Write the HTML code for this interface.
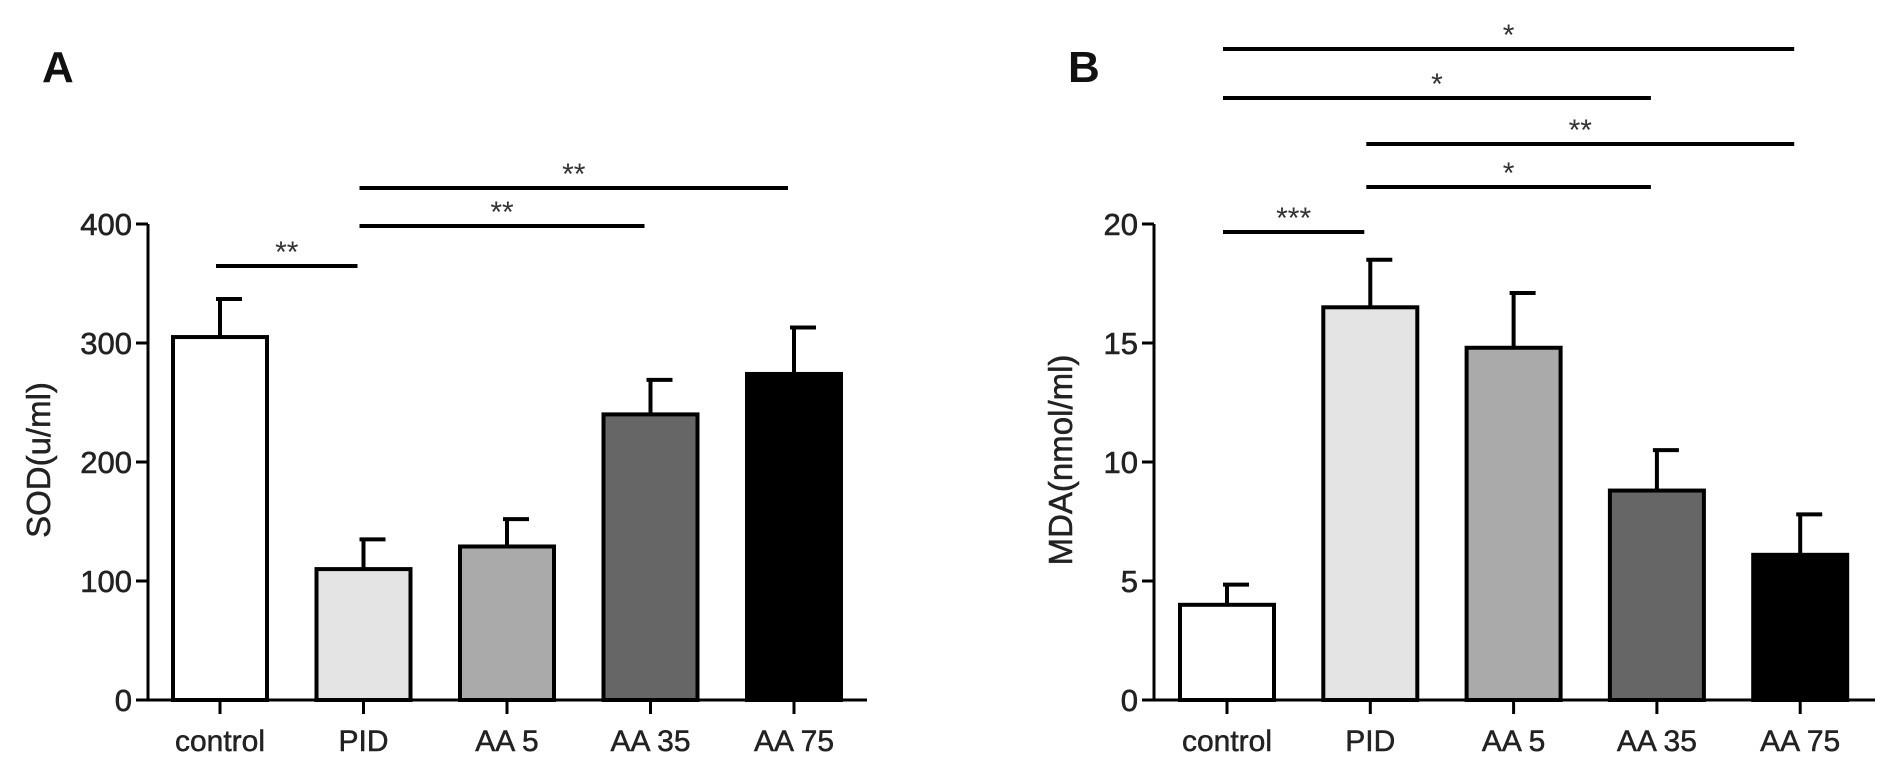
<!DOCTYPE html>
<html><head><meta charset="utf-8"><style>
body{margin:0;background:#fff;}
svg{display:block;font-family:"Liberation Sans",Arial,sans-serif;}
</style></head><body>
<svg id="c" width="1890" height="770" viewBox="0 0 1890 770"></svg>
<script>
const categories = ["control","PID","AA 5","AA 35","AA 75"];
const fills = ["#ffffff","#e4e4e4","#aaaaaa","#666666","#000000"];
const sodValues = [305,110,129,240,274];
const sodErrors = [32,25,23,29,39];
const sodTicks = [0,100,200,300,400];
const mdaValues = [4.0,16.5,14.8,8.8,6.1];
const mdaErrors = [0.85,2.0,2.3,1.7,1.7];
const mdaTicks = [0,5,10,15,20];
const sodSig = [[0,1,"**",266],[1,3,"**",226],[1,4,"**",188]];
const mdaSig = [[0,1,"***",232],[1,3,"*",187],[1,4,"**",144],[0,3,"*",98],[0,4,"*",49]];

const svg = document.getElementById('c');
const NS = "http://www.w3.org/2000/svg";
function mk(tag, attrs, parent){const e=document.createElementNS(NS,tag);for(const k in attrs)e.setAttribute(k,attrs[k]);(parent||svg).appendChild(e);return e;}

function panel(p){
  const g = mk('g',{});
  
  
  const y = v => p.y0 - (v/p.max)*(p.y0-p.yTop);
  const xc = i => p.x0 + i*p.step;
  const L = mk('text',{x:p.lx,y:82,'font-size':44,'font-weight':'bold',fill:'#111'},g);
  L.textContent=p.letter;
  
  
  p.values.forEach((v,i)=>{
    const cx=xc(i), top=y(v), et=y(v+p.errors[i]);
    const eb=mk('line',{x1:cx,y1:top,x2:cx,y2:et,stroke:'#000','stroke-width':4},g);
    
    
    const cap=mk('line',{x1:cx-4,y1:et,x2:cx+22,y2:et,stroke:'#000','stroke-width':4},g);
    
    
    const r=mk('rect',{x:cx-47,y:top,width:94,height:p.y0-top,fill:fills[i],stroke:'#000','stroke-width':4},g);
    
    
  });
  const ya=mk('line',{x1:p.ax,y1:y(p.ticks[p.ticks.length-1]),x2:p.ax,y2:p.y0,stroke:'#000','stroke-width':3},g);
  
  
  const xa=mk('line',{x1:p.ax-12,y1:p.y0,x2:p.xEnd,y2:p.y0,stroke:'#000','stroke-width':3},g);
  
  
  p.ticks.forEach(t=>{
    mk('line',{x1:p.ax-12,y1:y(t),x2:p.ax,y2:y(t),stroke:'#000','stroke-width':3},g);
    const tl=mk('text',{x:p.ax-16,y:y(t)+11,'font-size':31,'text-anchor':'end',fill:'#222',stroke:'#222','stroke-width':0.6},g);
    tl.textContent=t;
    
    
  });
  categories.forEach((c,i)=>{
    mk('line',{x1:xc(i),y1:p.y0,x2:xc(i),y2:p.y0+14,stroke:'#000','stroke-width':3},g);
    const tl=mk('text',{x:xc(i),y:751,'font-size':30,'text-anchor':'middle',fill:'#222',stroke:'#222','stroke-width':0.5},g);
    tl.textContent=c;
    
    
  });
  const yt=mk('text',{x:0,y:0,'font-size':33,'text-anchor':'middle',fill:'#222',stroke:'#222','stroke-width':0.5,transform:`translate(${p.tx},460) rotate(-90)`},g);
  yt.textContent=p.title;
  
  
  p.sig.forEach(s=>{
    const x1=xc(s[0])-4, x2=xc(s[1])-6;
    const l=mk('line',{x1:x1,y1:s[3],x2:x2,y2:s[3],stroke:'#000','stroke-width':4},g);
    
    
    const st=mk('text',{x:(x1+x2)/2,y:s[3]-4,'font-size':30,'text-anchor':'middle',fill:'#333'},g);
    st.textContent=s[2];
    
    
  });
}
panel({name:'panel-a-sod',letter:'A',lx:42,values:sodValues,errors:sodErrors,ticks:sodTicks,max:400,
  x0:220,step:143.5,ax:148,xEnd:867,y0:700,yTop:224,title:'SOD(u/ml)',tx:50,sig:sodSig});
panel({name:'panel-b-mda',letter:'B',lx:1068,values:mdaValues,errors:mdaErrors,ticks:mdaTicks,max:20,
  x0:1227,step:143.3,ax:1154,xEnd:1875,y0:700,yTop:224,title:'MDA(nmol/ml)',tx:1072,sig:mdaSig});
</script>
</body></html>
